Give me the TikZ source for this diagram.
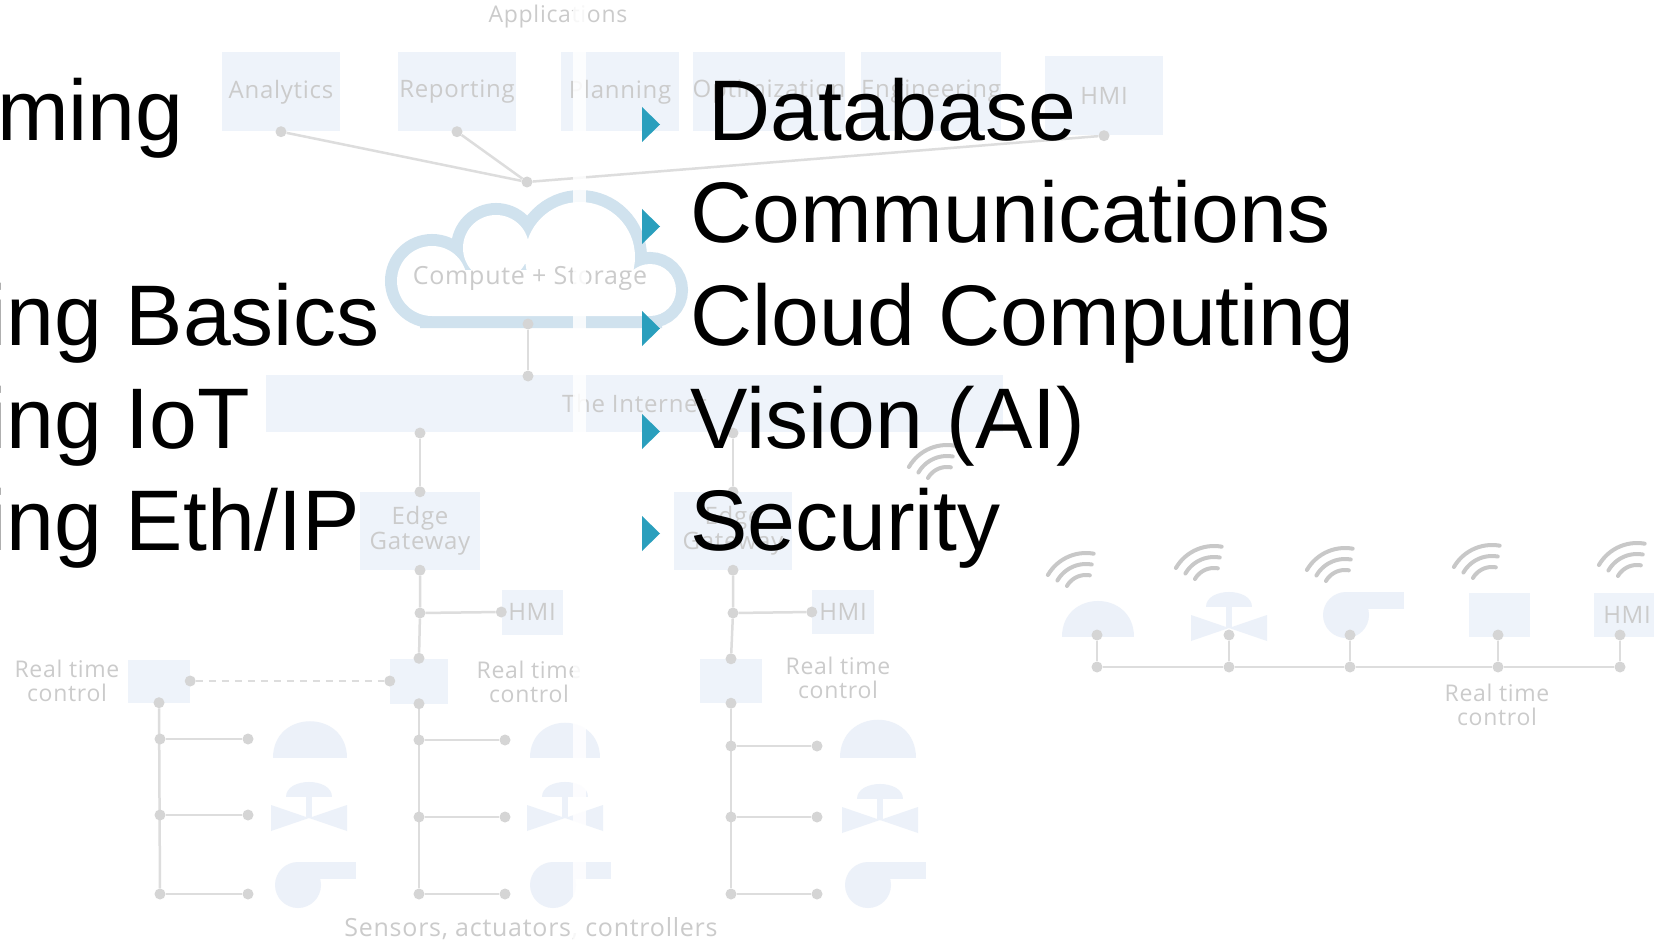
\documentclass[tikz,border=0pt]{standalone}
\usepackage{fontspec}
\setmainfont{Liberation Sans}
\newfontfamily\diagfont[LetterSpace=3]{Open Sans}
\pgfdeclarelayer{paper}
\pgfdeclarelayer{wires}
\pgfsetlayers{paper,wires,main}

\definecolor{triC}{HTML}{2A9FBD}
\definecolor{lineC}{HTML}{DDDDDD}
\definecolor{dotC}{HTML}{D5D5D5}
\definecolor{boxC}{HTML}{EEF3FA}
\definecolor{labC}{HTML}{CBCBCB}
\definecolor{cloudC}{HTML}{D0E2EE}
\definecolor{devC}{HTML}{ECF1F9}
\definecolor{wifiC}{HTML}{C8C8C8}

\tikzset{
  wire/.style={draw=lineC, line width=2.5pt},
  dashwire/.style={draw=lineC, line width=2.5pt, dash pattern=on 7pt off 6pt},
  jdot/.style={circle, fill=dotC, inner sep=0pt, minimum size=11pt},
  tile/.style={rectangle, fill=boxC, inner sep=0pt, text=labC, align=center,
    font=\diagfont\fontsize{24}{25}\selectfont},
  apptile/.style={tile, minimum width=118pt, minimum height=79pt},
  softlabel/.style={text=labC, inner sep=0pt, align=center,
    font=\diagfont\fontsize{23}{24}\selectfont},
  devshape/.style={fill=devC},
  wavearc/.style={draw=wifiC, line width=4pt, line cap=round},
  tribullet/.style={fill=triC},
  bigitem/.style={anchor=base west, inner sep=0pt, text=black,
    font=\fontsize{86}{100}\selectfont},
}

% device pictograms: dome sensor, valve, pump
\newcommand\domeshape[3]{% centre x, base y, radius
  \fill[devshape] (#1-#3,#2) .. controls (#1-#3,#2-1.33*#3) and (#1+#3,#2-1.33*#3) .. (#1+#3,#2) -- cycle;}
\newcommand\valveshape[2]{% centre x, top of the body
  \fill[devshape] (#1-23,#2-8) .. controls (#1-23,#2-28) and (#1+23,#2-28) .. (#1+23,#2-8) -- cycle;
  \fill[devshape] (#1-3,#2-8) rectangle (#1+3,#2+13);
  \fill[devshape] (#1-38,#2) -- (#1-38,#2+26) -- (#1,#2+13) -- cycle;
  \fill[devshape] (#1+38,#2) -- (#1+38,#2+26) -- (#1,#2+13) -- cycle;}
\newcommand\pumpshape[2]{% centre of the casing
  \fill[devshape] (#1,#2) circle[radius=23pt];
  \fill[devshape] (#1,#2-23) rectangle (#1+58,#2-6);}
% outline of the cloud as a union of lobes
\newcommand\cloudlobes{
  (432,281) circle[radius=35pt] (496,248) circle[radius=33pt]
  (580,257) circle[radius=55pt] (650,290) circle[radius=26pt]
  (432,270) rectangle (650,316)}

\begin{document}
\begin{tikzpicture}[x=1pt,y=-1pt]
\useasboundingbox (0,0) rectangle (1654,944);
\begin{pgfonlayer}{paper}
  \fill[white] (0,0) rectangle (1654,944);
\end{pgfonlayer}

% ---------- application layer ----------
\node[softlabel] (apps) at (558,17) {Applications};
\node[apptile] (analytics) at (281,92) {Analytics};
\node[apptile] (reporting) at (457,92) {Reporting};
\node[apptile] (planning) at (620,92) {Planning};
\node[apptile] (optimization) at (769,92) {Optimization};
\node[apptile] (engineering) at (931,92) {Engineering};
\node[apptile] (hmitop) at (1104,96) {HMI};
\node[jdot] (analyticsP) at (analytics.south) {};
\node[jdot] (reportingP) at (reporting.south) {};
\node[jdot] (hmitopP) at (hmitop.south) {};
\node[jdot] (hub) at (527,182) {};
\begin{pgfonlayer}{wires}
  \draw[wire] (analyticsP) -- (hub);
  \draw[wire] (reportingP) -- (hub);
  \draw[wire] (hub) -- (hmitopP);
\end{pgfonlayer}

% ---------- cloud ----------
\draw[cloudC, line width=24pt] \cloudlobes;
\fill[white] \cloudlobes;
\node[softlabel, font=\diagfont\fontsize{25}{26}\selectfont] (cloud) at (530,278) {Compute + Storage};
\node[jdot] (cloudP) at (528,324) {};

% ---------- internet ----------
\node[tile, minimum width=737pt, minimum height=57pt] (inet) at (634.5,403.5) {The Internet};
\node[jdot] (inetT) at (528,376) {};
\node[jdot] (inetA) at (420,433) {};
\node[jdot] (inetB) at (733,433) {};

% ---------- edge gateways ----------
\node[tile, minimum width=120pt, minimum height=78pt] (gw1) at (420,531) {Edge\\Gateway};
\node[tile, minimum width=118pt, minimum height=78pt] (gw2) at (733,531) {Edge\\Gateway};
\node[jdot] (gw1N) at (gw1.north) {};
\node[jdot] (gw1S) at (gw1.south) {};
\node[jdot] (gw2N) at (gw2.north) {};
\node[jdot] (gw2S) at (gw2.south) {};

\node[tile, minimum width=61pt, minimum height=45pt] (hmi1) at (532,612) {HMI};
\node[tile, minimum width=62pt, minimum height=44pt] (hmi2) at (843,612) {HMI};
\node[jdot] (hmi1P) at (hmi1.west) {};
\node[jdot] (hmi2P) at (hmi2.west) {};
\node[jdot] (br1) at (420,613) {};
\node[jdot] (br2) at (733,613) {};

% ---------- real time controllers ----------
\node[tile, minimum width=62pt, minimum height=43pt] (ctl1) at (159,681) {};
\node[tile, minimum width=58pt, minimum height=45pt] (ctl2) at (419,681) {};
\node[tile, minimum width=62pt, minimum height=44pt] (ctl3) at (731,681) {};
\node[jdot] (ctl1E) at (ctl1.east) {};
\node[jdot] (ctl1S) at (ctl1.south) {};
\node[jdot] (ctl2W) at (ctl2.west) {};
\node[jdot] (ctl2N) at (ctl2.north) {};
\node[jdot] (ctl2S) at (ctl2.south) {};
\node[jdot] (ctl3N) at (ctl3.north) {};
\node[jdot] (ctl3S) at (ctl3.south) {};

\node[softlabel] (rt1) at (67,681) {Real time\\control};
\node[softlabel] (rt2) at (529,682) {Real time\\control};
\node[softlabel] (rt3) at (838,678) {Real time\\control};

% field buses to sensors and actuators
\foreach \k/\yy in {1/739,2/815,3/894} {
  \node[jdot] (lA\k) at (160,\yy) {};
  \node[jdot] (lB\k) at (248,\yy) {};
}
\foreach \k/\yy in {1/740,2/817,3/894} {
  \node[jdot] (mA\k) at (419,\yy) {};
  \node[jdot] (mB\k) at (505,\yy) {};
}
\foreach \k/\yy in {1/746,2/817,3/894} {
  \node[jdot] (rA\k) at (731,\yy) {};
  \node[jdot] (rB\k) at (817,\yy) {};
}

\begin{pgfonlayer}{wires}
  \draw[wire] (cloudP) -- (inetT);
  \draw[wire] (inetA) -- (gw1N);
  \draw[wire] (inetB) -- (gw2N);
  \draw[wire] (gw1S) -- (br1) -- (ctl2N);
  \draw[wire] (gw2S) -- (br2) -- (ctl3N);
  \draw[wire] (br1) -- (hmi1P);
  \draw[wire] (br2) -- (hmi2P);
  \draw[dashwire] (ctl1E) -- (ctl2W);
  \draw[wire] (ctl1S) -- (lA3);
  \draw[wire] (ctl2S) -- (mA3);
  \draw[wire] (ctl3S) -- (rA3);
  \foreach \k in {1,2,3} {
    \draw[wire] (lA\k) -- (lB\k);
    \draw[wire] (mA\k) -- (mB\k);
    \draw[wire] (rA\k) -- (rB\k);
  }
\end{pgfonlayer}

\domeshape{310}{758}{37}
\valveshape{309}{805}
\pumpshape{298}{885}
\domeshape{565}{758}{35}
\valveshape{565}{805}
\pumpshape{553}{885}
\domeshape{878}{758}{38}
\valveshape{880}{807}
\pumpshape{868}{885}

\node[softlabel, font=\diagfont\fontsize{25}{26}\selectfont] (field) at (531,929) {Sensors, actuators, controllers};

% ---------- wireless segment ----------
\domeshape{1098}{637}{36}
\valveshape{1229}{615}
\pumpshape{1346}{615}
\node[tile, minimum width=61pt, minimum height=44pt] (wctl) at (1499,615) {};
\node[tile, minimum width=66pt, minimum height=44pt] (whmi) at (1627,615) {HMI};
\foreach \k/\xx in {1/1097,2/1229,3/1350,4/1498,5/1620} {
  \node[jdot] (wP\k) at (\xx,635) {};
  \node[jdot] (wB\k) at (\xx,667) {};
}
\begin{pgfonlayer}{wires}
  \foreach \k in {1,...,5} { \draw[wire] (wP\k) -- (wB\k); }
  \draw[wire] (wB1) -- (wB2) -- (wB3) -- (wB4) -- (wB5);
\end{pgfonlayer}
\node[softlabel] (rt4) at (1497,705) {Real time\\control};

\foreach \gx/\gy in {932/462,1071/570,1199/563,1330/565,1477/562,1622/560} {
  \foreach \r in {22,33,44} {
    \draw[wavearc] plot[domain=80:150, samples=16] ({\gx+15+\r*cos(\x)}, {\gy+27-\r*sin(\x)});
  }
}

% seam between the two halves of the backdrop
\fill[white, opacity=0.85] (573,0) rectangle (586,944);

% ---------- topic lists ----------
\node[bigitem] (l1) at (-3,141) {ming};
\node[bigitem] (l3) at (-13,345) {ing Basics};
\node[bigitem] (l4) at (-13,448) {ing IoT};
\node[bigitem] (l5) at (-13,550) {ing Eth/IP};

\foreach \b in {141,243,345,448,550} {
  \fill[tribullet] (642,\b-34) -- (660,\b-16.5) -- (642,\b+1) -- cycle;
}
\node[bigitem] (r1) at (708,141) {Database};
\node[bigitem] (r2) at (690,243) {Communications};
\node[bigitem] (r3) at (690,345) {Cloud Computing};
\node[bigitem] (r4) at (690,448) {Vision (AI)};
\node[bigitem] (r5) at (690,550) {Security};
\end{tikzpicture}
\end{document}
